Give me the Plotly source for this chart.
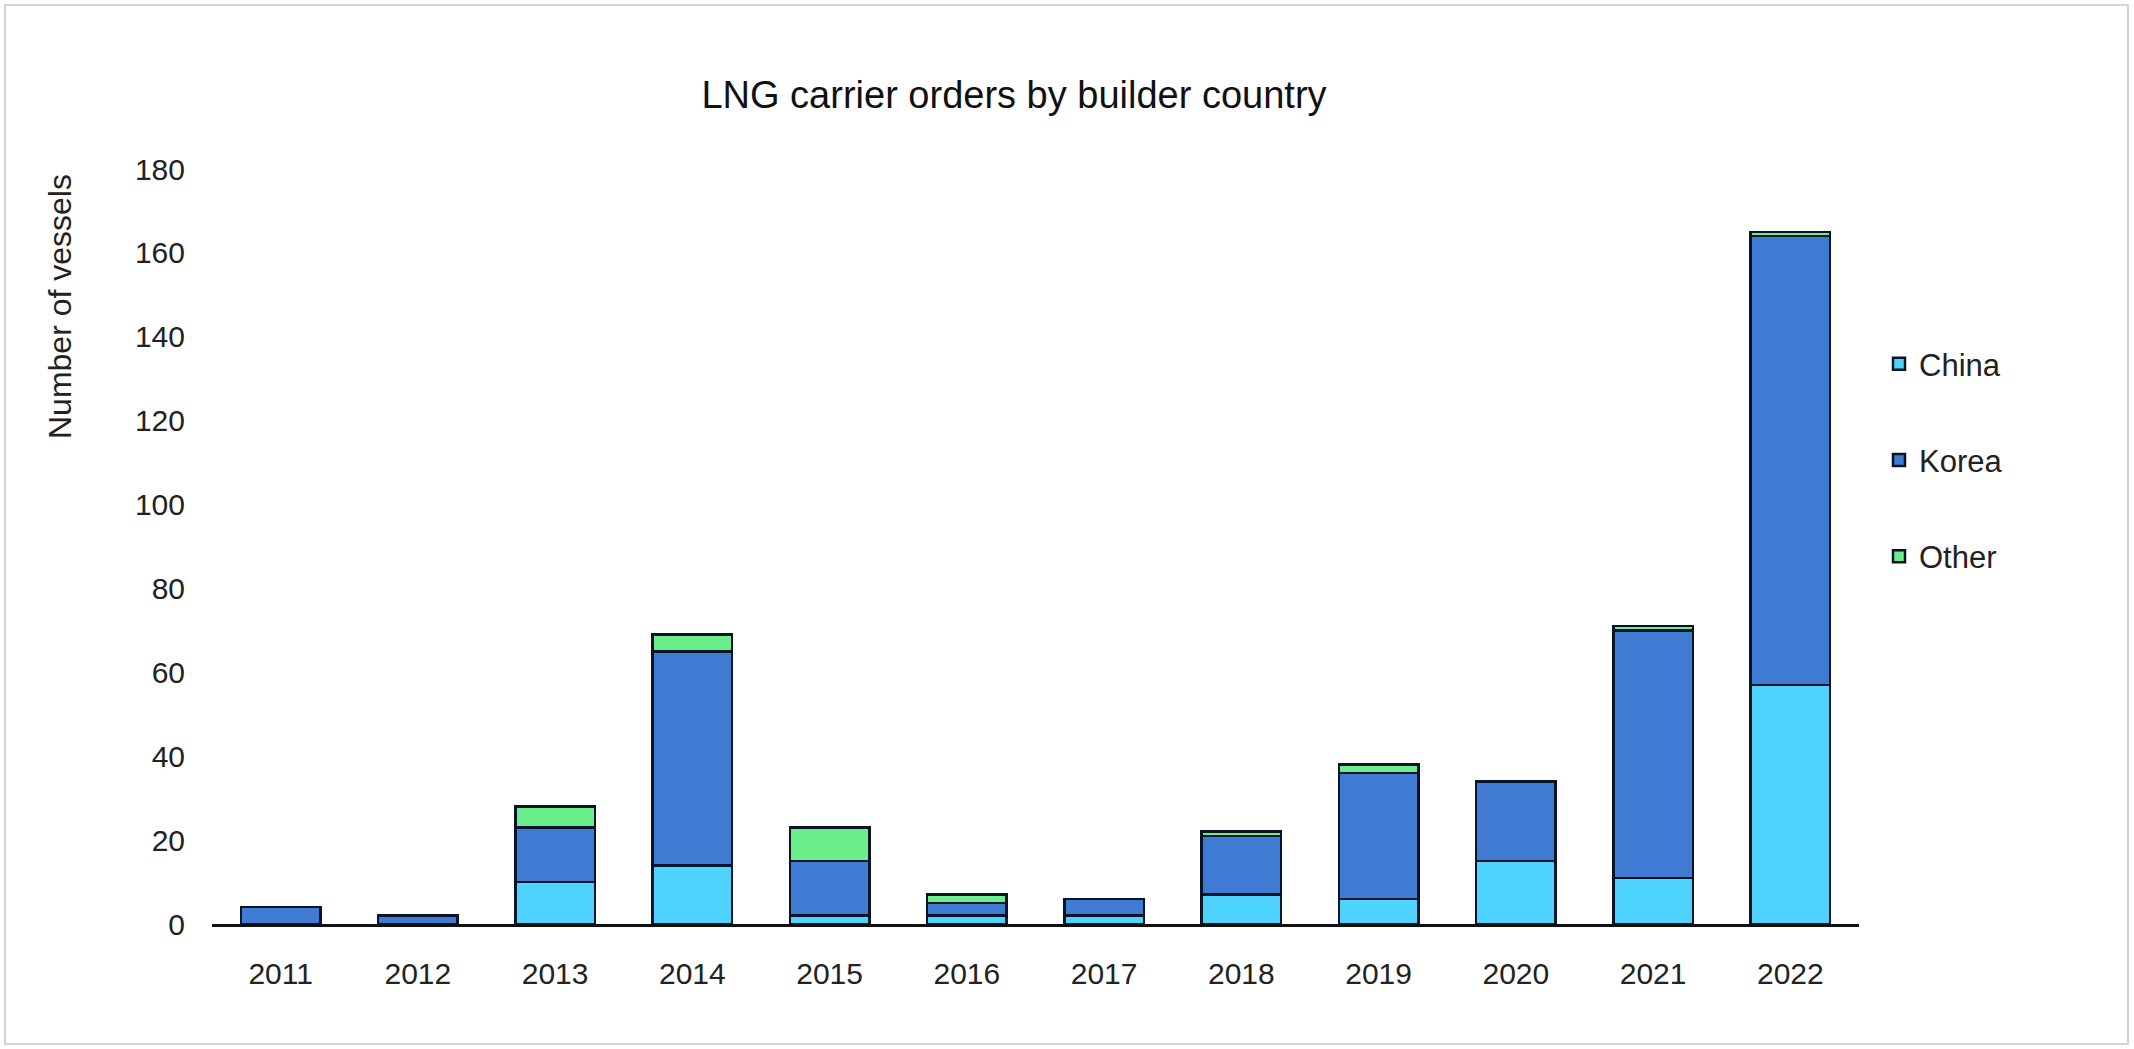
import plotly.graph_objects as go

years = ["2011", "2012", "2013", "2014", "2015", "2016", "2017", "2018", "2019", "2020", "2021", "2022"]
china = [0, 0, 10, 14, 2, 2, 2, 7, 6, 15, 11, 57]
korea = [4, 2, 13, 51, 13, 3, 4, 14, 30, 19, 59, 107]
other = [0, 0, 5, 4, 8, 2, 0, 1, 2, 0, 1, 1]
y_ticks = [0, 20, 40, 60, 80, 100, 120, 140, 160, 180]

FONT = "Arial, 'Liberation Sans', sans-serif"
W, H = 2134, 1049
L, R, T, B = 212, 275, 169, 125
pw = W - L - R
ph = H - T - B

def px_x(px):
    return (px - L) / pw

def px_y(py):
    return (H - B - py) / ph

fig = go.Figure()
series = [("China", china, "#4DD3FD"), ("Korea", korea, "#3F7AD3"), ("Other", other, "#6BEF8D")]
for name, vals, col in series:
    fig.add_trace(go.Bar(
        x=years, y=vals, name=name, legendgroup=name,
        marker=dict(color=col, line=dict(color="#0a1428", width=2.5)),
    ))

fig.update_layout(
    width=W, height=H,
    margin=dict(l=L, r=R, t=T, b=B),
    barmode="stack", bargap=0.42,
    paper_bgcolor="white", plot_bgcolor="white",
    font=dict(family=FONT, color="#1a1a1a"),
    title=dict(text="LNG carrier orders by builder country", x=1014 / W, xanchor="center",
               y=1 - 95 / H, yanchor="middle", font=dict(size=38, color="#111", family=FONT)),
    xaxis=dict(showgrid=False, showline=True, linecolor="#111", linewidth=2.5,
               ticks="outside", ticklen=21, tickcolor="rgba(0,0,0,0)",
               tickfont=dict(size=30, color="#222"), range=[-0.5, 11.5]),
    yaxis=dict(range=[0, 180], tickvals=y_ticks, showgrid=False, zeroline=False, showline=False,
               ticks="outside", ticklen=20, tickcolor="rgba(0,0,0,0)",
               tickfont=dict(size=30, color="#222")),
    legend=dict(x=px_x(1879), xanchor="left", y=px_y(337), yanchor="top",
                traceorder="grouped", tracegroupgap=53, font=dict(size=31, color="#222"),
                bgcolor="rgba(0,0,0,0)"),
    showlegend=True,
)

fig.add_annotation(text="Number of vessels", x=px_x(60), y=px_y(307), xref="paper", yref="paper",
                   textangle=-90, showarrow=False, font=dict(size=32, color="#222", family=FONT),
                   xanchor="center", yanchor="middle")

fig.add_shape(type="rect", xref="paper", yref="paper",
              x0=px_x(5), x1=px_x(2128), y0=px_y(1044), y1=px_y(5),
              line=dict(color="#d4d4d4", width=2), fillcolor="rgba(0,0,0,0)", layer="below")

fig.write_html("out.html", config={"displayModeBar": False},
               post_script="document.body.style.margin='0px';document.body.style.overflow='hidden';")
